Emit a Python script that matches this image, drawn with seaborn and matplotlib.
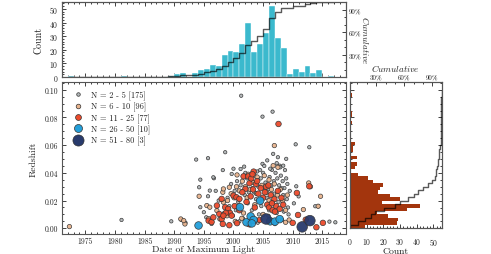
import matplotlib.pyplot as plt
import matplotlib.ticker as mticker
from matplotlib.lines import Line2D
import seaborn as sns
import pandas as pd
import numpy as np

# legend groups (number of observations per object)
group_labels = ['N = 2 - 5 [175]', 'N = 6 - 10 [96]', 'N = 11 - 25 [77]',
                'N = 26 - 50 [10]', 'N = 51 - 80 [3]']
group_colors = ['#b1b6b8', '#e9b48e', '#ec4b2c', '#239fda', '#283a6c']
group_sizes = [6, 10, 16, 30, 58]

# scatter points: (date of maximum light, redshift)
gray_pts = [
    (1981.1, 0.0060), (1989.5, 0.0050), (1991.2, 0.0060), (1991.9, 0.0040),
    (1993.7, 0.0496), (1995.7, 0.0506), (1998.6, 0.0549), (2001.3, 0.0957),
    (2001.8, 0.0445), (2006.6, 0.0842), (2004.9, 0.0806), (2010.5, 0.0606),
    (2012.8, 0.0585), (2006.7, 0.0537), (2007.5, 0.0513), (2008.9, 0.0501),
    (2004.9, 0.0465), (2007.8, 0.0452), (2008.4, 0.0452), (2006.5, 0.0421),
    (2001.2, 0.0428), (1999.7, 0.0392), (1996.7, 0.0361), (1994.4, 0.0351),
    (1994.2, 0.0296), (1996.0, 0.0272), (1995.7, 0.0231), (2010.6, 0.0303),
    (2013.8, 0.0159), (2014.3, 0.0159), (2016.2, 0.0048), (2017.2, 0.0043),
    (1994.4, 0.0152), (1995.0, 0.0116), (1995.4, 0.0079), (1996.3, 0.0031),
    (2001.6, 0.0072), (1998.2, 0.0420), (1996.6, 0.0368),
    (2002.3, 0.036), (2003.0, 0.034), (2003.6, 0.038), (2004.2, 0.030),
    (2004.6, 0.036), (2005.0, 0.040), (2005.4, 0.033), (2005.8, 0.028),
    (2006.1, 0.037), (2006.4, 0.031), (2006.8, 0.034), (2007.1, 0.040),
    (2007.4, 0.036), (2007.7, 0.031), (2008.0, 0.038), (2008.3, 0.034),
    (2008.6, 0.029), (2008.9, 0.036), (2009.1, 0.032), (2008.7, 0.042),
    (2007.9, 0.044), (2006.2, 0.043), (2005.2, 0.045), (2004.0, 0.041),
    (2003.2, 0.029), (2002.6, 0.026), (2001.9, 0.024), (2001.2, 0.031),
    (2000.6, 0.034), (2000.2, 0.027), (1999.6, 0.032), (1999.0, 0.022),
    (2000.8, 0.019), (2003.8, 0.021), (2004.7, 0.016), (2005.6, 0.022),
    (2006.9, 0.025), (2007.6, 0.019), (2008.4, 0.024), (2009.0, 0.021),
    (2009.2, 0.015), (2008.5, 0.012), (2007.3, 0.011), (2006.0, 0.013),
    (2004.3, 0.010), (2003.1, 0.013), (2002.4, 0.018), (1999.3, 0.016),
    (1998.4, 0.011), (1997.5, 0.020), (1997.0, 0.027), (2001.0, 0.005),
    (2002.8, 0.002), (2004.1, 0.004), (2005.9, 0.009), (2007.0, 0.003),
    (2008.2, 0.006), (2009.3, 0.010), (2003.5, 0.026), (2006.6, 0.019),
    (2005.3, 0.028), (2000.0, 0.043), (2002.0, 0.040), (2004.5, 0.042),
    (2007.3, 0.047), (2005.7, 0.049), (2008.1, 0.029), (2009.5, 0.027),
    (2010.2, 0.018), (2011.0, 0.023), (2000.4, 0.013), (1999.9, 0.009),
]
tan_pts = [
    (1972.3, 0.0012), (1991.1, 0.0067), (1991.8, 0.0031), (1991.6, 0.0055),
    (1994.2, 0.0231), (1995.5, 0.0164), (1996.0, 0.0152), (1997.2, 0.0128),
    (1997.7, 0.0067), (1998.2, 0.0260), (1998.3, 0.0188), (1998.3, 0.0284),
    (1999.3, 0.0296), (2000.6, 0.0385), (2001.4, 0.0072), (2006.9, 0.0597),
    (2006.7, 0.0452), (2012.7, 0.0327), (2014.7, 0.0231), (2014.3, 0.0159),
    (2011.8, 0.0135), (2008.8, 0.0043), (1995.8, 0.0069),
    (1999.0, 0.020), (1999.6, 0.025), (2000.1, 0.022), (2000.5, 0.030),
    (2001.0, 0.027), (2001.5, 0.034), (2002.0, 0.030), (2002.3, 0.022),
    (2002.8, 0.028), (2003.3, 0.033), (2003.9, 0.025), (2004.3, 0.020),
    (2004.8, 0.031), (2005.2, 0.038), (2005.6, 0.026), (2006.0, 0.020),
    (2006.4, 0.028), (2006.9, 0.032), (2007.4, 0.024), (2007.9, 0.028),
    (2008.3, 0.020), (2008.8, 0.013), (2009.1, 0.024), (2007.5, 0.044),
    (2006.0, 0.035), (2003.6, 0.017), (2001.7, 0.011), (2000.9, 0.015),
    (1998.9, 0.009), (2000.3, 0.005), (2005.0, 0.010), (2009.4, 0.006),
    (2013.0, 0.030), (2002.5, 0.039), (2004.0, 0.037),
]
red_pts = [
    (1995.8, 0.0055), (1996.3, 0.0045), (1996.6, 0.0079), (1997.2, 0.0164),
    (1997.6, 0.0103), (1998.0, 0.0067), (1998.2, 0.0031), (1999.3, 0.0022),
    (1998.0, 0.0212), (1998.6, 0.0152), (1999.1, 0.0140), (1999.4, 0.0111),
    (1998.7, 0.0111), (1999.7, 0.0091), (1998.3, 0.0091), (2000.0, 0.0236),
    (2000.5, 0.0224), (2001.0, 0.0212), (2002.0, 0.0284), (2002.7, 0.0325),
    (2003.4, 0.0409), (2001.7, 0.0375), (2002.5, 0.0375), (2007.6, 0.0753),
    (2010.7, 0.0255), (2010.9, 0.0096), (2010.0, 0.0039), (2012.8, 0.0303),
    (2012.2, 0.0062), (2014.0, 0.0007), (2015.1, 0.0039),
    (2001.5, 0.026), (2002.2, 0.019), (2002.9, 0.023), (2003.3, 0.028),
    (2003.8, 0.032), (2004.2, 0.025), (2004.6, 0.029), (2005.0, 0.022),
    (2005.3, 0.026), (2005.7, 0.017), (2006.0, 0.015), (2006.3, 0.024),
    (2006.6, 0.013), (2006.9, 0.021), (2007.2, 0.016), (2007.5, 0.027),
    (2007.8, 0.014), (2008.1, 0.022), (2008.4, 0.017), (2005.5, 0.030),
    (2004.0, 0.034), (2003.0, 0.036), (2006.5, 0.018), (2007.0, 0.012),
    (2003.6, 0.015), (2001.0, 0.013), (2000.2, 0.016), (2004.4, 0.006),
    (2000.6, 0.0037), (2002.6, 0.003), (2005.9, 0.031), (2003.2, 0.039),
]
blue_pts = [
    (1994.1, 0.0020), (2001.1, 0.0152), (2002.2, 0.0043), (2002.9, 0.0086),
    (2003.4, 0.0060), (2003.1, 0.0035), (2004.5, 0.0199), (2006.2, 0.0050),
    (2007.0, 0.0048), (2007.8, 0.0066),
]
navy_pts = [(2005.5, 0.0067), (2011.6, 0.0010), (2012.9, 0.0055)]

# top histogram: counts per year (left bin edges)
year_bins = list(range(1972, 2017))
year_counts = [1, 0, 0, 0, 0, 0, 0, 0, 0, 1, 0, 0, 0, 0, 0, 0, 0,
               1, 2, 3, 0, 3, 5, 6, 9, 8, 16, 19, 18, 24, 40, 18, 24,
               32, 52, 29, 21, 2, 6, 4, 8, 3, 5, 0, 1]

# right histogram: counts per redshift bin (width 0.0025 from 0)
z_counts = [9, 28, 29, 23, 16, 34, 42, 19, 30, 24, 17, 18, 20, 14, 11, 5,
            0, 3, 4, 0, 4, 0, 2, 2, 3, 0, 0, 0, 0, 0,
            1, 0, 1, 1, 0, 0, 0, 0, 1, 0]
z_binwidth = 0.0025

sns.set_theme(style='ticks')
plt.rcParams['font.family'] = 'serif'
plt.rcParams['font.serif'] = ['cmr10']
plt.rcParams['mathtext.fontset'] = 'cm'
plt.rcParams['axes.formatter.use_mathtext'] = True
plt.rcParams['axes.unicode_minus'] = False

rows = []
for lab, pts in zip(group_labels, [gray_pts, tan_pts, red_pts, blue_pts, navy_pts]):
    for d, z in pts:
        rows.append({'date': d, 'z': z, 'group': lab})
df = pd.DataFrame(rows)

year_edges = year_bins + [year_bins[-1] + 1]
year_centers = [y + 0.5 for y in year_bins]
z_edges = [i * z_binwidth for i in range(len(z_counts) + 1)]
z_centers = [(i + 0.5) * z_binwidth for i in range(len(z_counts))]

fig = plt.figure(figsize=(4.91, 2.55), dpi=100)
ax_top = fig.add_axes([0.1257, 0.694, 0.579, 0.294])
ax = fig.add_axes([0.1257, 0.0765, 0.579, 0.598])
ax_r = fig.add_axes([0.7128, 0.1008, 0.1868, 0.5737])

spine_col = '#555555'
txt_col = '#222222'


def style(a, labelsize=5.5, **kw):
    a.tick_params(which='both', direction='in', colors=txt_col,
                  labelsize=labelsize, width=0.6, **kw)
    a.tick_params(which='major', length=3)
    a.tick_params(which='minor', length=1.5)
    for s in a.spines.values():
        s.set_visible(True)
        s.set_color(spine_col)
        s.set_linewidth(0.8)


# ---- main scatter ----
sns.scatterplot(data=df, x='date', y='z', hue='group', size='group',
                hue_order=group_labels, size_order=group_labels,
                palette=dict(zip(group_labels, group_colors)),
                sizes=dict(zip(group_labels, group_sizes)),
                edgecolor='#333333', linewidth=0.5, alpha=0.95,
                legend=False, ax=ax)
ax.set_xlim(1971, 2019)
ax.set_ylim(-0.0045, 0.1056)
ax.xaxis.set_major_locator(mticker.MultipleLocator(5))
ax.xaxis.set_minor_locator(mticker.MultipleLocator(1))
ax.yaxis.set_major_locator(mticker.MultipleLocator(0.02))
ax.yaxis.set_minor_locator(mticker.MultipleLocator(0.005))
ax.xaxis.set_major_formatter(mticker.FormatStrFormatter('%d'))
ax.yaxis.set_major_formatter(mticker.FormatStrFormatter('%.2f'))
style(ax, top=True, right=True, pad=2.5)
ax.tick_params(axis='x', pad=1.5)
ax.set_xticks([1975, 1980, 1985, 1990, 1995, 2000, 2005, 2010, 2015])
ax.set_xlabel('Date of Maximum Light', fontsize=7, color=txt_col,
              labelpad=0)
ax.set_ylabel('Redshift', fontsize=7, color=txt_col, labelpad=5)

handles = [Line2D([], [], ls='', marker='o', markersize=np.sqrt(s) * 1.05,
                  markerfacecolor=c, markeredgecolor='#333333',
                  markeredgewidth=0.5)
           for c, s in zip(group_colors, group_sizes)]
ax.legend(handles, group_labels, loc='upper left', frameon=False, fontsize=6,
          handletextpad=0.55, labelspacing=0.25, borderaxespad=0.6,
          handlelength=2.0, labelcolor=txt_col)

# ---- top histogram ----
sns.histplot(x=year_centers, weights=year_counts, bins=year_edges,
             color='#3bb9cd', alpha=1, edgecolor='white', linewidth=0.3,
             ax=ax_top)
ax_top.set_xlim(1971, 2019)
ax_top.set_ylim(0, 55)
ax_top.xaxis.set_major_locator(mticker.MultipleLocator(5))
ax_top.xaxis.set_minor_locator(mticker.MultipleLocator(1))
ax_top.yaxis.set_major_locator(mticker.MultipleLocator(10))
ax_top.yaxis.set_minor_locator(mticker.MultipleLocator(2))
style(ax_top, top=True, right=False, labelbottom=False, pad=2.5)
ax_top.set_xlabel('')
ax_top.set_ylabel('Count', fontsize=7.2, color=txt_col, labelpad=4)

ax_top2 = ax_top.twinx()
sns.histplot(x=year_centers, weights=year_counts, bins=year_edges,
             cumulative=True, stat='probability', element='step', fill=False,
             color='black', alpha=0.65, linewidth=1.0, ax=ax_top2)
ax_top2.set_ylim(0, 1.0)
ax_top2.set_yticks([0.3, 0.6, 0.9])
ax_top2.set_yticklabels(['30%', '60%', '90%'])
ax_top2.yaxis.set_minor_locator(mticker.MultipleLocator(0.1))
style(ax_top2, labelsize=5, left=False, right=True, pad=2)
ax_top2.set_ylabel(r'$\mathit{Cumulative}$', fontsize=6.5, color=txt_col,
                   rotation=270, labelpad=7)

# ---- right histogram ----
sns.histplot(y=z_centers, weights=z_counts, bins=z_edges,
             color='#a3350d', alpha=1, linewidth=0, ax=ax_r)
ax_r.set_xlim(0, 55)
ax_r.xaxis.set_major_locator(mticker.MultipleLocator(10))
ax_r.xaxis.set_minor_locator(mticker.MultipleLocator(2))
ax_r.yaxis.set_major_locator(mticker.MultipleLocator(0.02))
ax_r.yaxis.set_minor_locator(mticker.MultipleLocator(0.005))
style(ax_r, left=True, right=True, top=False, labelleft=False, pad=5.5)
ax_r.set_ylabel('')
ax_r.set_xlabel('Count', fontsize=7, color=txt_col, labelpad=0)

ax_r2 = ax_r.twiny()
sns.histplot(y=z_centers, weights=z_counts, bins=z_edges,
             cumulative=True, stat='probability', element='step', fill=False,
             color='black', alpha=0.65, linewidth=1.0, ax=ax_r2)
ax_r2.set_xlim(0.02, 1.0)
ax_r2.set_xticks([0.3, 0.6, 0.9])
ax_r2.set_xticklabels(['30%', '60%', '90%'])
ax_r2.xaxis.set_minor_locator(mticker.MultipleLocator(0.1))
style(ax_r2, labelsize=5, bottom=False, top=True, pad=1.5)
ax_r2.set_xlabel(r'$\mathit{Cumulative}$', fontsize=6.5, color=txt_col,
                 labelpad=2.5)
ax_r2.set_ylabel('')
ax_r.set_ylim(0, 0.1056)

fig.savefig('out.png', dpi=100)
